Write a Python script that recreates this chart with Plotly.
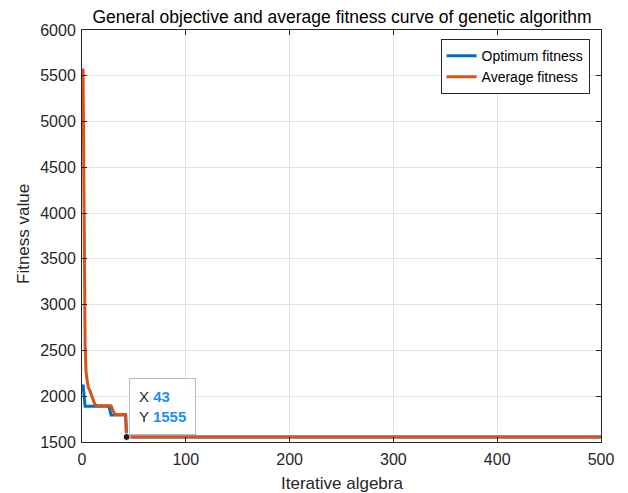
import plotly.graph_objects as go

# Optimum fitness (best) breakpoints
opt_x = [1, 3, 26, 28, 42, 43, 500]
opt_y = [2130, 1890, 1890, 1795, 1795, 1555, 1555]

# Average fitness breakpoints
avg_x = [1, 2, 3, 4, 5, 6, 8, 10, 12, 14, 28, 30, 32, 42, 43, 500]
avg_y = [5580, 3400, 2550, 2250, 2150, 2100, 2050, 1980, 1920, 1895, 1895, 1840, 1800, 1800, 1555, 1555]

tip_x = 43
tip_y = 1555

x_ticks = [0, 100, 200, 300, 400, 500]
y_ticks = [1500, 2000, 2500, 3000, 3500, 4000, 4500, 5000, 5500, 6000]

BLUE = "#0072BD"
ORANGE = "#D95319"
FONT = "Liberation Sans, Arial, sans-serif"
W, H = 628, 493
L, R, T, B = 82, 27, 30, 51
PW, PH = W - L - R, H - T - B


def px_to_paper(px, py):
    return (px - L) / PW, (H - B - py) / PH


fig = go.Figure()
fig.add_trace(go.Scatter(x=opt_x, y=opt_y, mode="lines", name="Optimum fitness",
                         line=dict(color=BLUE, width=3)))
fig.add_trace(go.Scatter(x=avg_x, y=avg_y, mode="lines", name="Average fitness",
                         line=dict(color=ORANGE, width=3)))
fig.add_trace(go.Scatter(x=[tip_x], y=[tip_y], mode="markers", showlegend=False,
                         marker=dict(color="#1a1a1a", size=7, line=dict(color="white", width=1))))

fig.add_annotation(x=tip_x, y=tip_y, xref="x", yref="y", showarrow=False,
                   xanchor="left", yanchor="bottom", xshift=2, yshift=2,
                   align="left",
                   text=f"X <b><span style='color:#1f8ef1'>{tip_x}</span></b><br>Y <b><span style='color:#1f8ef1'>{tip_y}</span></b>",
                   font=dict(family=FONT, size=15, color="#262626"),
                   bgcolor="rgba(255,255,255,0.92)", bordercolor="#b8b8c8", borderwidth=1,
                   borderpad=9)

# axis titles as paper annotations for exact placement
xt_x, xt_y = px_to_paper((L + W - R) / 2, 483)
fig.add_annotation(x=xt_x, y=xt_y, xref="paper", yref="paper",
                   text="Iterative algebra", showarrow=False, xanchor="center", yanchor="middle",
                   font=dict(family=FONT, size=17, color="#262626"))
yt_x, yt_y = px_to_paper(23, 234)
fig.add_annotation(x=yt_x, y=yt_y, xref="paper", yref="paper",
                   text="Fitness value", showarrow=False, xanchor="center", yanchor="middle",
                   textangle=-90, font=dict(family=FONT, size=17, color="#262626"))

axis_common = dict(showgrid=True, gridcolor="#e3e3e3", gridwidth=1, zeroline=False,
                   showline=True, linecolor="#262626", linewidth=1, mirror="ticks",
                   ticks="inside", ticklen=5, tickcolor="#262626", automargin=False,
                   tickfont=dict(family=FONT, size=16, color="#262626"))

fig.update_layout(
    width=W, height=H,
    margin=dict(l=L, r=R, t=T, b=B, autoexpand=False),
    paper_bgcolor="white", plot_bgcolor="white",
    title=dict(text="General objective and average fitness curve of genetic algorithm",
               x=(93 + 591) / 2 / W, xanchor="center", y=1 - 16.5 / H, yanchor="middle",
               font=dict(family=FONT, size=17.5, color="#000000")),
    xaxis=dict(range=[0, 500], tickvals=x_ticks, ticklabelstandoff=3, **axis_common),
    yaxis=dict(range=[1500, 6000], tickvals=y_ticks, ticklabelstandoff=2, **axis_common),
    legend=dict(x=0.978, y=0.978, xanchor="right", yanchor="top",
                bgcolor="white", bordercolor="#262626", borderwidth=1,
                font=dict(family=FONT, size=14, color="#000000"),
                tracegroupgap=0),
    showlegend=True,
)

fig.write_html("out.html")
